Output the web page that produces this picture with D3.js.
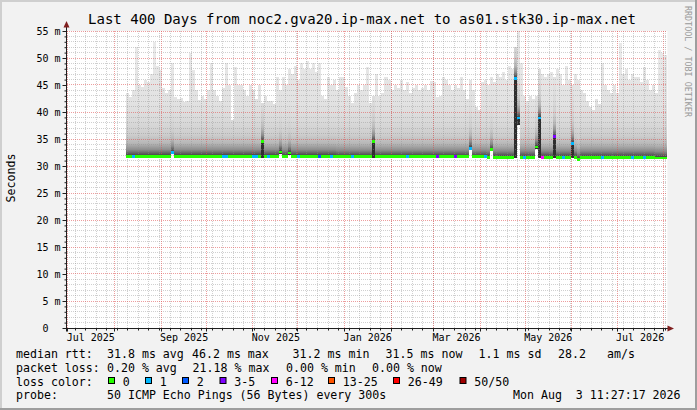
<!DOCTYPE html>
<meta charset="utf-8">
<style>
body {
  margin: 0;
  background: #f2f2f2;
}
svg text {
  font-family: "DejaVu Sans Mono", monospace;
  white-space: pre;
  fill: #000;
}
.grid line {
  stroke-width: 1;
  stroke-dasharray: 1,1;
  shape-rendering: crispEdges;
}
.grid.minor line { stroke: rgba(143,143,143,0.42); }
.grid.major line { stroke: rgba(222,79,79,0.55); }
.smoke rect, .median rect { shape-rendering: crispEdges; }
</style>
<body>
<script src="https://d3js.org/d3.v7.min.js"></script>
<script>

var width = 697,
    height = 410;

var title = "Last 400 Days from noc2.gva20.ip-max.net to as01.stk30.ip-max.net";

var tStart = new Date(Date.UTC(2025, 5, 29, 11, 27, 17)),
    tEnd = new Date(Date.UTC(2026, 7, 3, 11, 27, 17));

// one rrd row every 2 days, first row with data
var firstRow = new Date(Date.UTC(2025, 7, 8, 12, 0, 0)),
    rowDays = 2;

// highest ping of the row (top of the smoke), ms
var maxRtt = [
  43.5, 42.8, 44.0, 52.0, 45.0, 44.7, 46.0, 45.5, 47.0, 53.0,
  48.5, 47.8, 44.5, 43.5, 44.0, 49.0, 42.8, 42.5, 42.6, 41.9,
  42.0, 50.9, 47.7, 44.0, 42.3, 43.0, 42.5, 44.0, 49.0, 44.0,
  43.0, 42.0, 44.5, 49.0, 45.0, 38.5, 48.3, 45.0, 45.0, 44.0,
  43.0, 45.0, 44.0, 42.5, 45.0, 41.7, 43.0, 42.0, 42.0, 41.5,
  46.5, 44.0, 46.5, 45.0, 48.0, 47.0, 48.5, 46.0, 49.0, 48.0,
  49.5, 48.0, 49.0, 47.5, 49.0, 43.0, 42.5, 46.5, 45.0, 46.0,
  44.0, 46.5, 46.5, 44.6, 43.0, 41.7, 43.5, 45.0, 44.0, 45.0,
  48.3, 41.7, 43.0, 47.0, 43.0, 43.5, 46.5, 46.0, 44.0, 45.0,
  44.5, 46.0, 44.0, 45.5, 43.5, 44.5, 45.0, 44.0, 44.5, 45.0,
  44.0, 45.7, 45.5, 42.8, 43.0, 46.5, 46.0, 45.0, 44.0, 45.0,
  44.5, 46.5, 44.0, 42.5, 46.0, 44.0, 41.0, 40.4, 45.5, 46.0,
  45.0, 46.5, 45.5, 47.0, 46.5, 47.5, 46.0, 48.5, 48.0, 52.0,
  56.0, 49.0, 43.0, 42.0, 43.0, 42.5, 43.0, 48.0, 47.0, 46.5,
  47.0, 47.5, 46.5, 48.0, 47.0, 45.0, 48.5, 46.0, 45.0, 47.0,
  46.0, 44.0, 43.5, 42.0, 41.0, 40.4, 42.5, 41.5, 49.0, 45.0,
  44.0, 43.5, 45.0, 43.5, 52.7, 47.0, 48.0, 46.0, 47.0, 46.5,
  46.5, 45.5, 48.3, 46.0, 44.0, 45.0, 43.6, 51.5, 51.0, 50.5
];

// median rtt, ms
var medianRtt = [
  31.8, 31.8, 31.8, 31.8, 31.8, 31.8, 31.8, 31.8, 31.8, 31.8,
  31.8, 31.8, 31.8, 31.8, 31.8, 32.5, 31.8, 31.8, 31.8, 31.8,
  31.8, 31.8, 31.8, 31.8, 31.8, 31.8, 31.8, 31.8, 31.8, 31.8,
  31.8, 31.8, 31.8, 31.8, 31.8, 31.8, 31.8, 31.8, 31.8, 31.8,
  31.8, 31.8, 31.8, 31.8, 31.8, 34.5, 31.8, 31.8, 31.8, 31.8,
  31.8, 32.6, 31.8, 31.8, 32.4, 31.8, 31.8, 31.8, 31.8, 31.8,
  31.8, 31.8, 31.8, 31.8, 31.8, 31.8, 31.8, 31.8, 31.8, 31.8,
  31.7, 31.7, 31.7, 31.7, 31.7, 31.7, 31.7, 31.7, 31.7, 31.7,
  31.7, 31.7, 34.5, 31.7, 31.7, 31.7, 31.7, 31.7, 31.7, 31.7,
  31.7, 31.7, 31.7, 31.7, 31.7, 31.7, 31.7, 31.7, 31.7, 31.7,
  31.7, 31.7, 31.7, 31.7, 31.7, 31.7, 31.7, 31.7, 31.7, 31.7,
  31.7, 31.7, 31.7, 31.7, 33.3, 31.7, 31.7, 31.7, 31.7, 31.7,
  31.6, 33.0, 31.6, 31.6, 31.6, 31.6, 31.6, 31.6, 31.6, 46.2,
  38.9, 31.6, 31.6, 31.6, 31.6, 31.6, 33.5, 38.9, 31.6, 31.6,
  31.6, 31.6, 35.4, 31.6, 31.6, 31.6, 31.6, 31.6, 34.2, 31.6,
  31.2, 31.6, 31.6, 31.6, 31.6, 31.6, 31.6, 31.6, 31.6, 31.6,
  31.6, 31.6, 31.6, 31.6, 31.6, 31.6, 31.6, 31.6, 31.6, 31.6,
  31.6, 31.6, 31.6, 31.6, 31.6, 31.6, 31.5, 31.5, 31.5, 31.5
];

// lowest ping of the row, ms
var minRtt = [
  31.6, 31.6, 31.6, 31.6, 31.6, 31.6, 31.6, 31.6, 31.6, 31.6,
  31.6, 31.6, 31.6, 31.6, 31.6, 32.2, 31.6, 31.6, 31.6, 31.6,
  31.6, 31.6, 31.6, 31.6, 31.6, 31.6, 31.6, 31.6, 31.6, 31.6,
  31.6, 31.6, 31.6, 31.6, 31.6, 31.6, 31.6, 31.6, 31.6, 31.6,
  31.6, 31.6, 31.6, 31.6, 31.6, 31.5, 31.6, 31.6, 31.6, 31.6,
  31.6, 32.3, 31.6, 31.6, 32.1, 31.6, 31.6, 31.6, 31.6, 31.6,
  31.6, 31.6, 31.6, 31.6, 31.6, 31.6, 31.6, 31.6, 31.6, 31.6,
  31.5, 31.5, 31.5, 31.5, 31.5, 31.5, 31.5, 31.5, 31.5, 31.5,
  31.5, 31.5, 31.4, 31.5, 31.5, 31.5, 31.5, 31.5, 31.5, 31.5,
  31.5, 31.5, 31.5, 31.5, 31.5, 31.5, 31.5, 31.5, 31.5, 31.5,
  31.5, 31.5, 31.5, 31.5, 31.5, 31.5, 31.5, 31.5, 31.5, 31.5,
  31.5, 31.5, 31.5, 31.5, 33.0, 31.5, 31.5, 31.5, 31.5, 31.5,
  31.4, 32.7, 31.4, 31.4, 31.4, 31.4, 31.4, 31.4, 31.4, 31.4,
  37.6, 31.4, 31.4, 31.4, 31.4, 31.4, 33.2, 31.4, 31.4, 31.4,
  31.4, 31.4, 31.4, 31.4, 31.4, 31.4, 31.4, 31.4, 31.4, 31.4,
  31.0, 31.4, 31.4, 31.4, 31.4, 31.4, 31.4, 31.4, 31.4, 31.4,
  31.4, 31.4, 31.4, 31.4, 31.4, 31.4, 31.4, 31.4, 31.4, 31.4,
  31.4, 31.4, 31.4, 31.4, 31.4, 31.4, 31.3, 31.3, 31.3, 31.3
];

// loss class of the row: index into lossLabels
var lossClass = [
  0, 0, 1, 0, 0, 0, 0, 0, 0, 0,
  0, 0, 0, 0, 0, 1, 0, 0, 0, 0,
  0, 0, 0, 0, 0, 0, 0, 0, 0, 0,
  0, 0, 1, 1, 0, 0, 0, 0, 0, 0,
  0, 0, 1, 1, 0, 0, 0, 1, 0, 0,
  0, 0, 0, 0, 0, 0, 0, 1, 0, 0,
  0, 0, 0, 0, 2, 0, 0, 0, 1, 0,
  0, 0, 0, 0, 0, 1, 0, 0, 0, 0,
  0, 0, 0, 0, 0, 0, 0, 0, 0, 0,
  0, 0, 0, 1, 0, 0, 0, 0, 0, 0,
  0, 0, 0, 3, 0, 0, 0, 0, 0, 3,
  0, 0, 0, 0, 1, 0, 0, 0, 0, 1,
  0, 0, 0, 0, 0, 0, 0, 0, 0, 1,
  1, 0, 1, 0, 0, 0, 0, 1, 4, 0,
  0, 0, 3, 0, 0, 1, 0, 0, 1, 0,
  0, 0, 0, 0, 0, 0, 0, 0, 1, 0,
  0, 0, 0, 0, 0, 0, 0, 0, 1, 0,
  0, 0, 1, 0, 0, 0, 0, 0, 0, 0
];

var lossLabels = ["0", "1", "2", "3-5", "6-12", "13-25", "26-49", "50/50"];
var lossColors = ["#26ff00", "#00b8ff", "#0059ff", "#7e00ff", "#ff00ff", "#ff5500", "#ff0000", "#a00000"];

var rttStats = ["31.8 ms avg", "46.2 ms max", "31.2 ms min", "31.5 ms now", "1.1 ms sd", "28.2", "am/s"];
var lossStats = ["0.20 % avg", "21.18 % max", "0.00 % min", "0.00 % now"];
var probeText = "50 ICMP Echo Pings (56 Bytes) every 300s";
var stampText = "Mon Aug  3 11:27:17 2026";

// smoke shading, dark next to the median, light far above it
var smokeStops = [
  [0, "#383838"], [0.025, "#5c5c5c"], [0.06, "#8c8c8c"], [0.12, "#b6b6b6"],
  [0.2, "#cdcdcd"], [0.32, "#d9d9d9"], [0.5, "#e2e2e2"], [1, "#e9e9e9"]
];

var x = d3.scaleUtc().domain([tStart, tEnd]).range([65.4, 667.4]);
var y = d3.scaleLinear().domain([0, 55]).range([328, 31]);
var lossColor = d3.scaleOrdinal().domain(d3.range(lossLabels.length)).range(lossColors);

var x0 = 66.5, y0 = 328.5;   // axis lines
var plotRight = x.range()[1];

var rows = maxRtt.map(function(d, i) {
  var t0 = d3.utcDay.offset(firstRow, i * rowDays),
      t1 = d3.min([d3.utcDay.offset(firstRow, (i + 1) * rowDays), tEnd]);
  return { i: i, t0: t0, t1: t1, max: d, median: medianRtt[i], min: minRtt[i], loss: lossClass[i] };
});

var svg = d3.select("body").append("svg")
    .attr("width", width)
    .attr("height", height);

// background + shaded frame
svg.append("rect").attr("width", width).attr("height", height).attr("fill", "#f2f2f2");
svg.append("path").attr("d", "M0,0H697V2H2V410H0Z").attr("fill", "#cfcfcf");
svg.append("path").attr("d", "M697,0V410H0V408H695V0Z").attr("fill", "#9e9e9e");

// canvas
svg.append("rect")
    .attr("x", 66).attr("y", y(55))
    .attr("width", plotRight - 66).attr("height", y(0) - y(55))
    .attr("fill", "#fff");

var defs = svg.append("defs");

defs.append("clipPath").attr("id", "plot")
  .append("rect")
    .attr("x", 66).attr("y", y(55))
    .attr("width", plotRight - 66).attr("height", y(0) - y(55));

var grads = defs.selectAll("linearGradient")
    .data(rows)
  .enter().append("linearGradient")
    .attr("id", function(d) { return "smoke" + d.i; })
    .attr("gradientUnits", "userSpaceOnUse")
    .attr("x1", 0).attr("x2", 0)
    .attr("y1", function(d) { return y(d.median); })
    .attr("y2", function(d) { return y(d.median + 20); });

grads.selectAll("stop")
    .data(smokeStops)
  .enter().append("stop")
    .attr("offset", function(d) { return d[0]; })
    .attr("stop-color", function(d) { return d[1]; });

// smoke
var smoke = svg.append("g").attr("class", "smoke").attr("clip-path", "url(#plot)");

smoke.selectAll(".up")
    .data(rows)
  .enter().append("rect")
    .attr("class", "up")
    .attr("x", function(d) { return x(d.t0); })
    .attr("width", function(d) { return x(d.t1) - x(d.t0); })
    .attr("y", function(d) { return y(d.max); })
    .attr("height", function(d) { return y(d.median) - y(d.max); })
    .attr("fill", function(d) { return "url(#smoke" + d.i + ")"; });

smoke.selectAll(".down")
    .data(rows)
  .enter().append("rect")
    .attr("class", "down")
    .attr("x", function(d) { return x(d.t0); })
    .attr("width", function(d) { return x(d.t1) - x(d.t0); })
    .attr("y", function(d) { return y(d.median); })
    .attr("height", function(d) { return Math.max(0, y(d.min) - y(d.median)); })
    .attr("fill", "#2e2e2e");

// grid
function px(v) { return Math.floor(v) + 0.5; }

var yMinor = y.ticks(55).filter(function(d) { return d % 5 !== 0; }),
    yMajor = y.ticks(11).filter(function(d) { return d > 0; }),
    xMinor = d3.utcSunday.range(tStart, tEnd),
    xMajor = d3.utcMonth.range(tStart, tEnd);

var minor = svg.append("g").attr("class", "grid minor");
minor.selectAll(".h").data(yMinor).enter().append("line")
    .attr("x1", x0).attr("x2", plotRight)
    .attr("y1", function(d) { return px(y(d)); })
    .attr("y2", function(d) { return px(y(d)); });
minor.selectAll(".v").data(xMinor).enter().append("line")
    .attr("x1", function(d) { return px(x(d)); })
    .attr("x2", function(d) { return px(x(d)); })
    .attr("y1", y(55)).attr("y2", y(0));

var major = svg.append("g").attr("class", "grid major");
major.selectAll(".h").data(yMajor).enter().append("line")
    .attr("x1", x0).attr("x2", plotRight)
    .attr("y1", function(d) { return px(y(d)); })
    .attr("y2", function(d) { return px(y(d)); });
major.selectAll(".v").data(xMajor).enter().append("line")
    .attr("x1", function(d) { return px(x(d)); })
    .attr("x2", function(d) { return px(x(d)); })
    .attr("y1", y(55)).attr("y2", y(0));

// median, coloured by packet loss
svg.append("g").attr("class", "median").attr("clip-path", "url(#plot)")
  .selectAll("rect")
    .data(rows)
  .enter().append("rect")
    .attr("x", function(d) { return x(d.t0); })
    .attr("width", function(d) { return x(d.t1) - x(d.t0); })
    .attr("y", function(d) { return y(d.median) - 1.35; })
    .attr("height", 2.7)
    .attr("fill", function(d) { return lossColor(d.loss); });

// axes
var axisCol = "#1f1f1f", arrowCol = "#801f1f";

var yMinorAxis = svg.append("g")
    .attr("transform", "translate(" + x0 + ",0)")
    .call(d3.axisLeft(y).tickValues(yMinor).tickSize(2).tickFormat(""));
yMinorAxis.select(".domain").remove();
yMinorAxis.selectAll("line").attr("stroke", axisCol);

var yAxis = svg.append("g")
    .attr("transform", "translate(" + x0 + ",0)")
    .call(d3.axisLeft(y).ticks(11).tickSize(4).tickPadding(2)
      .tickFormat(function(d) { return d === 0 ? "0" : d + " m"; }));
yAxis.select(".domain").remove();
yAxis.selectAll("line").attr("stroke", axisCol);
yAxis.selectAll("text")
    .attr("font-family", "DejaVu Sans Mono")
    .attr("font-size", 10)
    .attr("fill", "#000")
    .filter(function(d) { return d === 0; })
    .attr("x", -18);

var xTicks = svg.append("g").attr("class", "xticks");
xTicks.selectAll(".mi").data(xMinor).enter().append("line")
    .attr("x1", function(d) { return px(x(d)); })
    .attr("x2", function(d) { return px(x(d)); })
    .attr("y1", y0).attr("y2", y0 + 2)
    .attr("stroke", axisCol);
xTicks.selectAll(".ma").data(xMajor).enter().append("line")
    .attr("x1", function(d) { return px(x(d)); })
    .attr("x2", function(d) { return px(x(d)); })
    .attr("y1", y0).attr("y2", y0 + 3)
    .attr("stroke", axisCol);

// month labels sit in the middle of their month
var labelMonths = d3.utcMonth.every(2).range(tStart, tEnd);
var xAxis = svg.append("g")
    .attr("transform", "translate(0," + y(0) + ")")
    .call(d3.axisBottom(x)
      .tickValues(labelMonths.map(function(d) { return d3.utcDay.offset(d, 15); }))
      .tickSize(0).tickPadding(5.4)
      .tickFormat(function(d) { return d3.utcFormat("%b %Y")(d3.utcMonth.floor(d)); }));
xAxis.select(".domain").remove();
xAxis.selectAll("text")
    .attr("font-family", "DejaVu Sans Mono")
    .attr("font-size", 10)
    .attr("fill", "#000");

svg.append("line")
    .attr("x1", x0).attr("x2", x0).attr("y1", y0 + 3).attr("y2", 24)
    .attr("stroke", axisCol);
svg.append("line")
    .attr("x1", 63).attr("x2", 668).attr("y1", y0).attr("y2", y0)
    .attr("stroke", axisCol);
svg.append("path")
    .attr("d", "M63.5,27.5L66.5,21L69.5,27.5Z")
    .attr("fill", arrowCol);
svg.append("path")
    .attr("d", "M667.5,325.5L674,328.5L667.5,331.5Z")
    .attr("fill", arrowCol);

// titles
svg.append("text")
    .attr("x", 362).attr("y", 23.5)
    .attr("text-anchor", "middle")
    .style("font-size", "14px")
    .text(title);

svg.append("text")
    .attr("transform", "translate(15,178) rotate(-90)")
    .attr("text-anchor", "middle")
    .style("font-size", "11.6px")
    .text("Seconds");

svg.append("text")
    .attr("transform", "translate(685,6) rotate(90)")
    .style("font-size", "8.4px")
    .style("fill", "#9a9a9a")
    .text("RRDTOOL / TOBI OETIKER");

// legend
var legend = svg.append("g").style("font-size", "11.6px");

function legendRow(base, items) {
  legend.selectAll(null)
      .data(items)
    .enter().append("text")
      .attr("x", function(d) { return d[0]; })
      .attr("y", base)
      .text(function(d) { return d[1]; });
}

legendRow(358, [[16, "median rtt:"]].concat(d3.zip([107, 192, 292.6, 385.6, 478.6, 558, 607], rttStats)));
legendRow(371.8, [[16, "packet loss:"]].concat(d3.zip([107, 192.6, 286, 372], lossStats)));
legendRow(385.5, [[16, "loss color:"]]);
legendRow(399.3, [[16, "probe:"], [107, probeText], [513, stampText]]);

var boxX = [108, 145, 182, 219.5, 271, 328, 393, 459.5];
var keys = legend.selectAll(".key")
    .data(lossLabels)
  .enter().append("g")
    .attr("transform", function(d, i) { return "translate(" + boxX[i] + ",0)"; });
keys.append("rect")
    .attr("x", 0.5).attr("y", 377.5)
    .attr("width", 6).attr("height", 6)
    .attr("fill", function(d, i) { return lossColor(i); })
    .attr("stroke", "#000");
keys.append("text")
    .attr("x", 14.8).attr("y", 385.5)
    .text(function(d) { return d; });

</script>
